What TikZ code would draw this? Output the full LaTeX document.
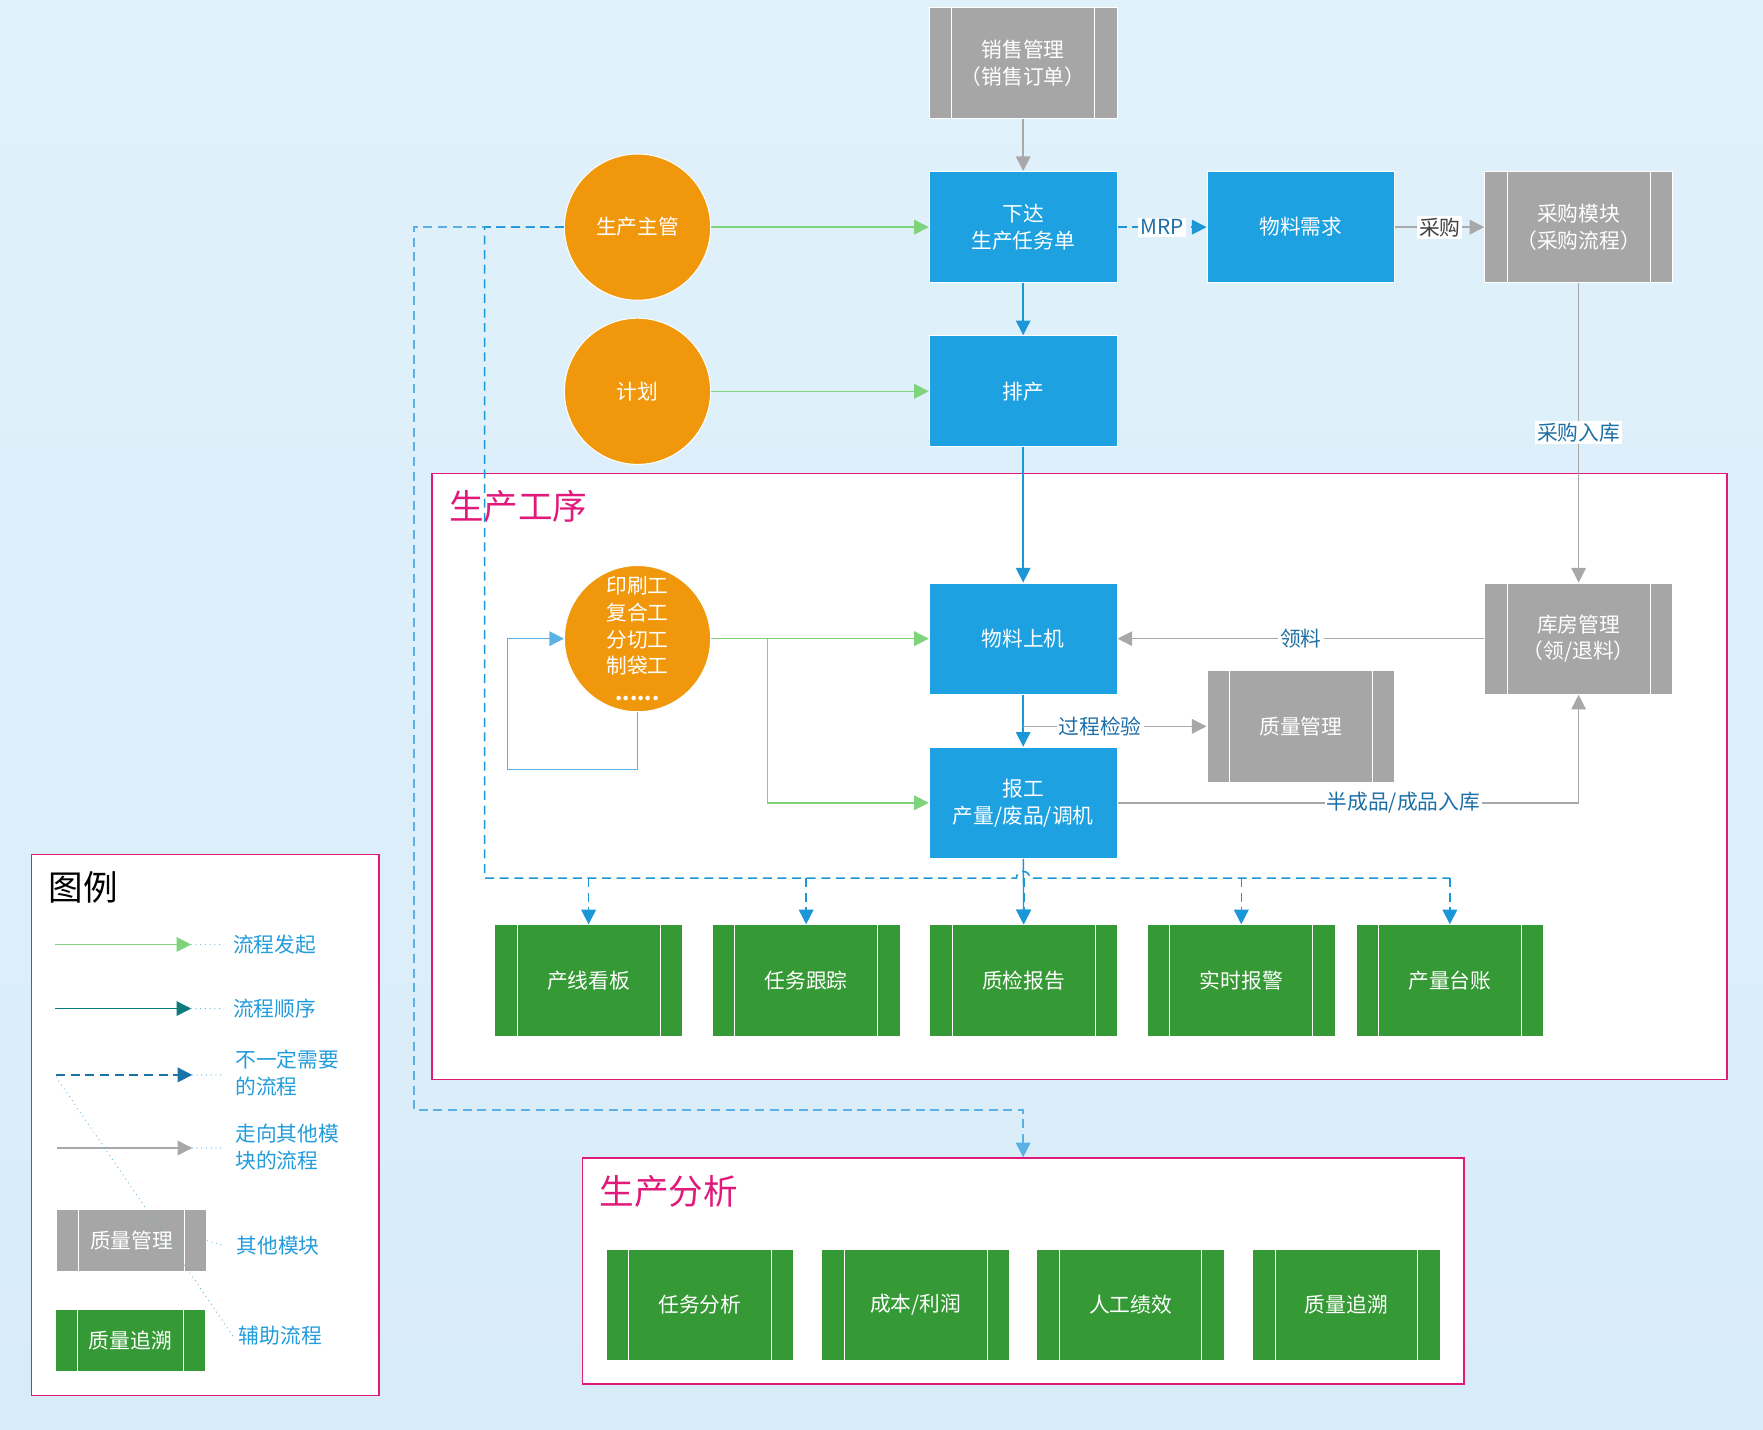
\documentclass[tikz,border=0pt]{standalone}
\usepackage{fontspec}
\setmainfont{Noto Sans CJK SC}
\usetikzlibrary{arrows.meta,calc}

\definecolor{bgtop}{HTML}{E0F1FB}
\definecolor{bgbottom}{HTML}{D8ECF8}
\definecolor{boxblue}{HTML}{1DA1E0}
\definecolor{boxgray}{HTML}{A6A6A6}
\definecolor{boxgreen}{HTML}{359A35}
\definecolor{roleorange}{HTML}{F0970B}
\definecolor{framepink}{HTML}{E0197B}
\definecolor{linegreen}{HTML}{7ED37B}
\definecolor{lineblue}{HTML}{1B96D6}
\definecolor{lightblue}{HTML}{5AB2E4}
\definecolor{lineteal}{HTML}{0B7C7A}
\definecolor{linegray}{HTML}{A8A8A8}
\definecolor{labelblue}{HTML}{1D6FA8}
\definecolor{legendblue}{HTML}{239CDC}
\definecolor{legdash}{HTML}{1A72A8}

\newcommand{\boxfont}{\fontsize{10.5}{13.6}\selectfont}
\newcommand{\titlefont}{\fontsize{17.5}{20}\selectfont}

\tikzset{
	box/.style={draw=white, line width=0.5pt, text=white, align=center, inner sep=1pt,
		minimum width=33.4mm, minimum height=19.8mm, font=\boxfont},
	sidebars/.style={path picture={
		\draw[white, line width=0.5pt] ([xshift=#1]path picture bounding box.north west) -- ([xshift=#1]path picture bounding box.south west);
		\draw[white, line width=0.5pt] ([xshift=-#1]path picture bounding box.north east) -- ([xshift=-#1]path picture bounding box.south east);
	}},
	sidebars/.default=4mm,
	bluebox/.style={box, fill=boxblue},
	graybox/.style={box, fill=boxgray, sidebars},
	greenbox/.style={box, fill=boxgreen, sidebars},
	role/.style={circle, draw=white, line width=0.5pt, fill=roleorange, text=white, align=center,
		minimum size=26mm, inner sep=0pt, font=\boxfont},
	stageframe/.style={draw=framepink, line width=0.8pt, fill=white, inner sep=0pt},
	stagetitle/.style={text=framepink, font=\titlefont, anchor=west, inner sep=0pt},
	linklabel/.style={fill=white, text=labelblue, inner sep=1pt, font=\boxfont},
	legtext/.style={text=legendblue, font=\boxfont, align=left, anchor=west, inner sep=0pt},
	flowgo/.style={draw=linegreen, line width=0.7pt, -{Triangle[length=2.6mm, width=2.6mm]}},
	flowseq/.style={draw=lineblue, line width=0.7pt, -{Triangle[length=2.6mm, width=2.6mm]}},
	flowopt/.style={draw=lineblue, line width=0.8pt, dash pattern=on 1.6mm off 1mm, -{Triangle[length=2.6mm, width=2.6mm]}},
	flowext/.style={draw=linegray, line width=0.7pt, -{Triangle[length=2.6mm, width=2.6mm]}},
	dotlink/.style={draw=lightblue, line width=0.6pt, line cap=round, dash pattern=on 0pt off 2.4pt},
}

\begin{document}
\begin{tikzpicture}[x=0.2mm, y=-0.2mm]
	%%%%% START %%%%%
	
	\shade[top color=bgtop, bottom color=bgbottom] (0,0) rectangle (1568,1271);
	\useasboundingbox (0,0) rectangle (1568,1271);
	
	% stages
	\node[stageframe, minimum width=230.4mm, minimum height=107.8mm] (procframe) at (960,690.5) {};
	\node[stagetitle] (proctitle) at (399,450) {生产工序};
	\node[stageframe, minimum width=156.8mm, minimum height=40.2mm] (anaframe) at (910,1130.5) {};
	\node[stagetitle] (anatitle) at (533,1060) {生产分析};
	
	% upper part
	\node[graybox] (sales) at (910,56) {销售管理\\（销售订单）};
	\node[bluebox] (issue) at (910,202) {下达\\生产任务单};
	\node[bluebox] (matreq) at (1157,202) {物料需求};
	\node[graybox] (purchase) at (1404,202) {采购模块\\（采购流程）};
	\node[role] (lead) at (567,202) {生产主管};
	\node[role] (plan) at (567,348) {计划};
	\node[bluebox] (sched) at (910,348) {排产};
	
	% shop floor
	\node[bluebox] (feed) at (910,568) {物料上机};
	\node[graybox] (store) at (1404,568) {库房管理\\（领/退料）};
	\node[role] (workers) at (567,568) {印刷工\\复合工\\分切工\\制袋工\\\textbf{......}};
	\node[graybox] (quality) at (1157,646) {质量管理};
	\node[bluebox] (report) at (910,714) {报工\\产量/废品/调机};
	
	\node[greenbox] (board) at (523.5,872) {产线看板};
	\node[greenbox] (track) at (717,872) {任务跟踪};
	\node[greenbox] (qcrep) at (910.5,872) {质检报告};
	\node[greenbox] (alarm) at (1104,872) {实时报警};
	\node[greenbox] (ledger) at (1289.5,872) {产量台账};
	
	\node[greenbox] (taskana) at (622.5,1160.5) {任务分析};
	\node[greenbox] (profit) at (814.5,1160.5) {成本/利润};
	\node[greenbox] (labour) at (1005.5,1160.5) {人工绩效};
	\node[greenbox] (trace) at (1197.5,1160.5) {质量追溯};
	
	% connectors
	\draw[flowext] (sales) -- (issue);
	\draw[flowgo] (lead) -- (issue);
	\draw[flowgo] (plan) -- (sched);
	\draw[flowseq] (issue) -- (sched);
	\draw[flowopt] (issue) -- node[linklabel] {MRP} (matreq);
	\draw[flowext] (matreq) -- node[linklabel, text=black!75] {采购} (purchase);
	\draw[flowext] (purchase) -- node[linklabel] {采购入库} (store);
	\draw[flowseq] (sched) -- (feed);
	\draw[flowext] (store) -- node[linklabel] {领料} (feed);
	\draw[flowseq] (feed) -- (report);
	\draw[flowext] (feed.south |- quality.west) -- node[linklabel, pos=0.42] {过程检验} (quality);
	\draw[flowext] (report.east) -- node[linklabel, pos=0.62] {半成品/成品入库} (report.east -| store.south) -- (store.south);
	\draw[flowgo] (workers) -- (feed);
	\draw[flowgo] ($(workers.east)!0.26!(feed.west)$) |- (report.west);
	\draw[flowseq, draw=lightblue] (workers.south) -- ++(0,51) -| ([xshift=-10mm]workers.west) -- (workers.west);
	\draw[flowseq] (report) -- (qcrep);
	
	% optional flows
	\coordinate (bus) at (431,781);
	\draw[flowopt, draw=lightblue] (lead.west) -- (368,202) -- (368,987) -| (anaframe.north);
	\draw[lineblue, line width=0.8pt, dash pattern=on 1.6mm off 1mm] (lead.west) -- (bus |- lead.west) -- (bus) -- (904,781) arc[start angle=180, end angle=360, radius=6] -- (ledger.north |- bus);
	\foreach \b in {board,track,qcrep,alarm,ledger}
		\draw[flowopt] (\b.north |- bus) -- (\b.north);
	
	% legend
	\node[stageframe, minimum width=61.8mm, minimum height=96.2mm] (legend) at (182.5,1000.5) {};
	\node[anchor=west, font=\titlefont, inner sep=0pt] (legtitle) at (43,789) {图例};
	
	\coordinate (lgoA) at (49,840);  \coordinate (lgoB) at (170,840);
	\coordinate (lseqA) at (49,897); \coordinate (lseqB) at (170,897);
	\coordinate (loptA) at (50,956); \coordinate (loptB) at (171,956);
	\coordinate (lextA) at (51,1021); \coordinate (lextB) at (171,1021);
	\node[legtext] (lgo) at (207,840) {流程发起};
	\node[legtext] (lseq) at (207,897) {流程顺序};
	\node[legtext] (lopt) at (209,954) {不一定需要\\的流程};
	\node[legtext] (lext) at (209,1020) {走向其他模\\块的流程};
	\node[graybox, minimum width=26.8mm, minimum height=11mm] (lmod) at (117,1103.5) {质量管理};
	\node[legtext] (lmodtxt) at (210,1108) {其他模块};
	\node[greenbox, minimum width=26.8mm, minimum height=11mm] (laux) at (116,1192.5) {质量追溯};
	\node[legtext] (lauxtxt) at (212,1188) {辅助流程};
	
	\draw[flowgo] (lgoA) -- (lgoB);
	\draw[flowseq, draw=lineteal] (lseqA) -- (lseqB);
	\draw[flowopt, draw=legdash] (loptA) -- (loptB);
	\draw[flowext] (lextA) -- (lextB);
	\draw[dotlink] (lgoB) -- ([xshift=-2mm]lgo.west);
	\draw[dotlink] (lseqB) -- ([xshift=-2mm]lseq.west |- lseqB);
	\draw[dotlink] (loptB) -- ([xshift=-2mm]lopt.west |- loptB);
	\draw[dotlink] (lextB) -- ([xshift=-2mm]lext.west |- lextB);
	\draw[dotlink] (lmod.east) -- ([xshift=-2mm]lmodtxt.west);
	\draw[dotlink] ([yshift=-0.4mm]loptA) -- ([xshift=-1mm]lauxtxt.west);
	
	%%%%% END %%%%%
\end{tikzpicture}
\end{document}
